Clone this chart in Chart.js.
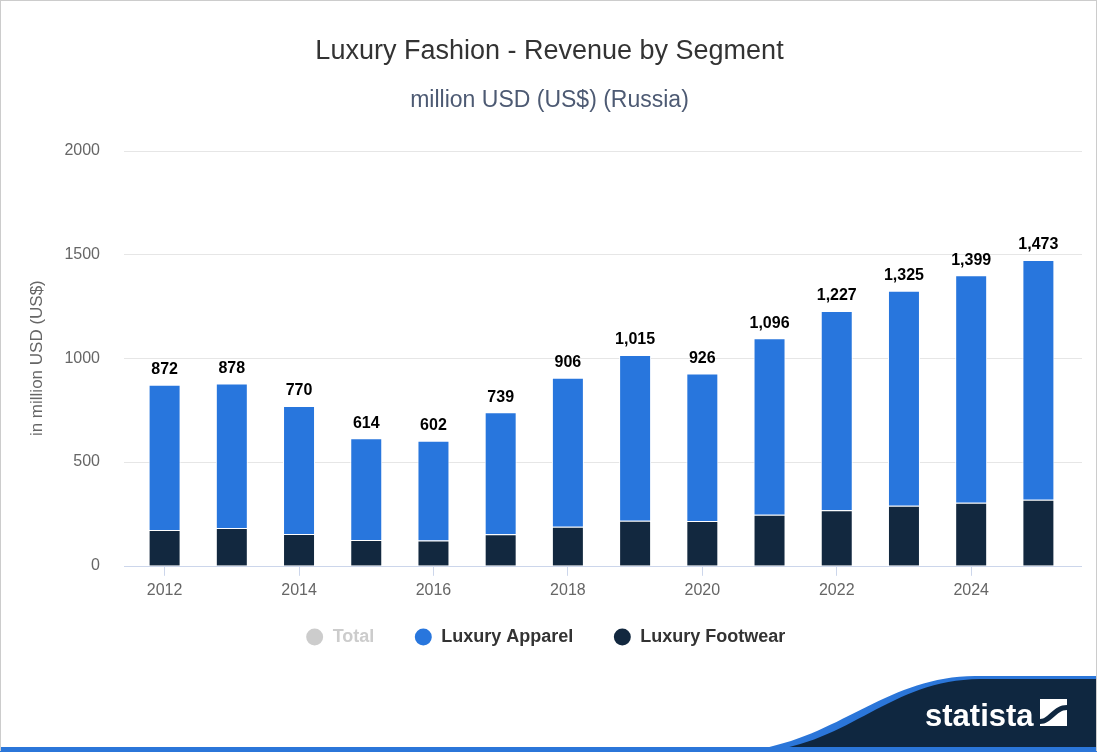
<!DOCTYPE html>
<html>
<head>
<meta charset="utf-8">
<script src="https://cdn.jsdelivr.net/npm/chart.js@4.4.1/dist/chart.umd.min.js"></script>
<style>
  html, body { margin: 0; padding: 0; background: #fff; }
  #wrap { position: relative; width: 1097px; height: 752px; overflow: hidden; }
  #frame { position: absolute; left: 0; top: 0; width: 1095px; height: 750px; border: 1px solid #cccccc; border-bottom: none; box-sizing: content-box; pointer-events: none; }
  canvas { position: absolute; left: 0; top: 0; }
  svg { position: absolute; left: 0; top: 0; }
</style>
</head>
<body>
<div id="wrap">
  <canvas id="c" width="1097" height="752"></canvas>
  <svg width="1097" height="752" viewBox="0 0 1097 752">
    <path d="M 735 752 C 835 745, 880 677, 975 676 L 1097 676 L 1097 752 Z" fill="#2b76d9"/>
    <path d="M 758 752 C 850 745, 888 680, 980 679 L 1097 679 L 1097 752 Z" fill="#0f2740"/>
    <rect x="0" y="747" width="1097" height="5" fill="#2b76d9"/>
    <text x="925" y="726" font-family="Liberation Sans, Arial, sans-serif" font-weight="bold" font-size="31" fill="#ffffff">statista</text>
    <g transform="translate(1040,699)">
      <rect x="0" y="0" width="27" height="27" fill="#ffffff"/>
      <path d="M 0 20 C 9 20, 13 6, 27 6 L 27 11 C 16 11, 12 25, 0 25 Z" fill="#0f2740"/>
    </g>
  </svg>
  <div id="frame"></div>
</div>
<script>
const years = ["2012","2013","2014","2015","2016","2017","2018","2019","2020","2021","2022","2023","2024","2025"];
const totalValues = [872, 878, 770, 614, 602, 739, 906, 1015, 926, 1096, 1227, 1325, 1399, 1473];
const apparelValues = [699, 696, 617, 490, 480, 587, 718, 798, 710, 850, 959, 1036, 1095, 1155];
const footwearValues = [173, 182, 153, 124, 122, 152, 188, 217, 216, 246, 268, 289, 304, 318];
const yTicks = [0, 500, 1000, 1500, 2000];

const FONT = "'Liberation Sans', Arial, Helvetica, sans-serif";
const APPAREL = "#2876dd";
const FOOTWEAR = "#12283f";

// Grid lines and axis line extend slightly beyond the category area (as in the reference)
const wideGrid = {
  id: "wideGrid",
  beforeDatasetsDraw(chart) {
    const ctx = chart.ctx;
    const area = chart.chartArea;
    const y = chart.scales.y;
    const x0 = area.left - 7, x1 = area.right + 10;
    ctx.save();
    ctx.lineWidth = 1;
    yTicks.forEach(v => {
      const py = Math.round(y.getPixelForValue(v)) + 0.5;
      ctx.strokeStyle = v === 0 ? "#ccd6eb" : "#e6e6e6";
      ctx.beginPath();
      ctx.moveTo(x0, py);
      ctx.lineTo(x1, py);
      ctx.stroke();
    });
    ctx.restore();
  }
};

// Pull the legend a little closer to the axis labels
const legendShift = {
  id: "legendShift",
  afterLayout(chart) {
    if (chart.legend) {
      chart.legend.top -= 17;
      chart.legend.bottom -= 17;
      chart.legend.left -= 4;
      chart.legend.right -= 4;
    }
  }
};

const totalLabels = {
  id: "totalLabels",
  afterDatasetsDraw(chart) {
    const ctx = chart.ctx;
    const metaTop = chart.getDatasetMeta(1);
    ctx.save();
    ctx.font = "bold 16px " + FONT;
    ctx.fillStyle = "#000";
    ctx.textAlign = "center";
    ctx.textBaseline = "middle";
    metaTop.data.forEach((bar, i) => {
      ctx.fillText(totalValues[i].toLocaleString("en-US"), bar.x, bar.y - 15);
    });
    ctx.restore();
  }
};

new Chart(document.getElementById("c"), {
  type: "bar",
  data: {
    labels: years,
    datasets: [
      { label: "Luxury Footwear", data: footwearValues, backgroundColor: FOOTWEAR, borderColor: "#ffffff", borderWidth: 1, stack: "s" },
      { label: "Luxury Apparel", data: apparelValues, backgroundColor: APPAREL, borderColor: "#ffffff", borderWidth: 1, stack: "s" },
      { label: "Total", data: totalValues, backgroundColor: "#cccccc", hidden: true, stack: "t" }
    ]
  },
  options: {
    responsive: false,
    animation: false,
    devicePixelRatio: 1,
    layout: { padding: { left: 27, right: 25, top: 0, bottom: 79 } },
    datasets: { bar: { barPercentage: 0.476, categoryPercentage: 1.0, grouped: false } },
    scales: {
      x: {
        stacked: true,
        grid: {
          offset: false,
          drawOnChartArea: false,
          drawTicks: true,
          tickLength: 10,
          color: (c) => (c.index % 2 === 0 ? "#ccd6eb" : "rgba(0,0,0,0)")
        },
        border: { display: false },
        ticks: {
          autoSkip: false,
          maxRotation: 0,
          color: "#666666",
          font: { family: FONT, size: 16 },
          padding: 5,
          callback: function (v, i) { return i % 2 === 0 ? years[i] : ""; }
        }
      },
      y: {
        stacked: true,
        min: 0,
        max: 2000,
        afterBuildTicks: (axis) => { axis.ticks = yTicks.map(v => ({ value: v })); },
        afterFit: (scale) => { scale.width = 104; },
        grid: { display: false, drawTicks: false },
        border: { display: false },
        ticks: { color: "#666666", font: { family: FONT, size: 16 }, padding: 31, callback: (v) => String(v) },
        title: { display: true, text: "in million USD (US$)", color: "#666666", font: { family: FONT, size: 17 }, padding: { top: 0, bottom: 0 } }
      }
    },
    plugins: {
      title: {
        display: true,
        text: "Luxury Fashion - Revenue by Segment",
        color: "#333333",
        font: { family: FONT, size: 27, weight: "normal" },
        padding: { top: 35, bottom: 19.5 }
      },
      subtitle: {
        display: true,
        text: "million USD (US$) (Russia)",
        color: "#4d5a73",
        font: { family: FONT, size: 23, weight: "normal" },
        padding: { top: 0, bottom: 36 }
      },
      legend: {
        position: "bottom",
        labels: {
          usePointStyle: true,
          pointStyle: "circle",
          boxWidth: 18,
          boxHeight: 12,
          padding: 40,
          font: { family: FONT, size: 18, weight: "bold" },
          color: "#333333",
          generateLabels: function (chart) {
            const ds = chart.data.datasets;
            return [2, 1, 0].map(i => ({
              text: ds[i].label,
              fillStyle: i === 2 ? "#cccccc" : ds[i].backgroundColor,
              strokeStyle: i === 2 ? "#cccccc" : ds[i].backgroundColor,
              fontColor: i === 2 ? "#cccccc" : "#333333",
              lineWidth: 0,
              pointStyle: "circle",
              hidden: false,
              datasetIndex: i
            }));
          }
        },
        onClick: () => {}
      },
      tooltip: { enabled: false }
    }
  },
  plugins: [wideGrid, legendShift, totalLabels]
});
</script>
</body>
</html>
